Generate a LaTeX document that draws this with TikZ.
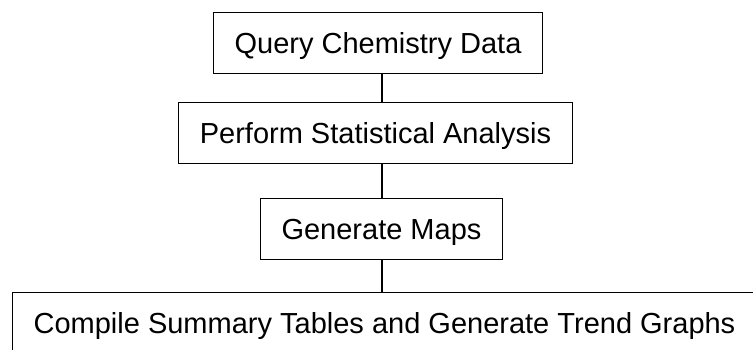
\documentclass[tikz,border=0pt]{standalone}
\usepackage{fontspec}
\setmainfont{Liberation Sans}
\usetikzlibrary{positioning}
\tikzset{
  stepbox/.style={draw, line width=1pt, inner xsep=21pt, inner ysep=0pt,
    minimum height=61pt, text height=21pt, text depth=0pt,
    font=\fontsize{29}{35}\selectfont},
  link/.style={line width=1.6pt}
}
\begin{document}
\begin{tikzpicture}[x=1pt,y=-1pt]
\useasboundingbox (0,0) rectangle (753,349);
\coordinate (spine) at (382,0);
\node[stepbox] (query) at (378,43) {Query Chemistry Data};
\node[stepbox] (stats) at (375.5,133) {Perform Statistical Analysis};
\node[stepbox] (maps) at (381.5,229) {Generate Maps};
\node[stepbox] (summary) at (384.5,322.5) {Compile Summary Tables and Generate Trend Graphs};
\draw[link] (query.south -| spine) -- (stats.north -| spine);
\draw[link] (stats.south -| spine) -- (maps.north -| spine);
\draw[link] (maps.south -| spine) -- (summary.north -| spine);
\end{tikzpicture}
\end{document}
